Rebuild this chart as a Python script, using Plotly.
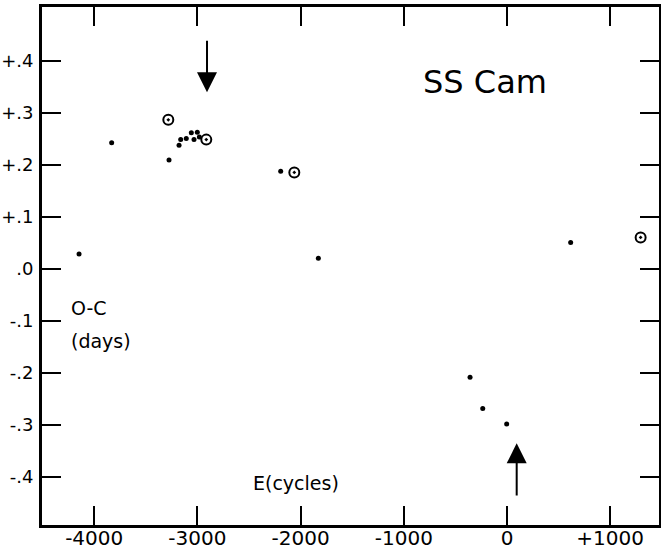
import plotly.graph_objects as go

# Filled dots: epoch E (cycles), O-C (days)
dot_E = [-4147, -3831, -3275, -3178, -3162, -3108, -3059, -3033, -3001, -2981,
         -2193, -1828, -358, -235, -3, 617]
dot_OC = [0.029, 0.243, 0.210, 0.238, 0.249, 0.251, 0.262, 0.249, 0.263, 0.254,
          0.188, 0.021, -0.208, -0.268, -0.298, 0.051]

# Circled dots
circ_E = [-3282, -2914, -2061, 1295]
circ_OC = [0.287, 0.249, 0.186, 0.061]

x_ticks = [-4000, -3000, -2000, -1000, 0, 1000]
x_labels = ["-4000", "-3000", "-2000", "-1000", "0", "+1000"]
y_ticks = [0.4, 0.3, 0.2, 0.1, 0.0, -0.1, -0.2, -0.3, -0.4]
y_labels = ["+.4", "+.3", "+.2", "+.1", ".0", "-.1", "-.2", "-.3", "-.4"]

# Arrows: (E, tail O-C, head O-C)
arrow_down = (-2907, 0.442, 0.340)
arrow_up = (94, -0.438, -0.335)

FONT = "DejaVu Sans"

fig = go.Figure()
fig.add_trace(go.Scatter(x=dot_E, y=dot_OC, mode="markers",
                         marker=dict(size=5, color="black", symbol="circle"),
                         showlegend=False, hoverinfo="skip"))
fig.add_trace(go.Scatter(x=circ_E, y=circ_OC, mode="markers",
                         marker=dict(size=10, color="black", symbol="circle-open-dot",
                                     line=dict(width=2, color="black")),
                         showlegend=False, hoverinfo="skip"))

for (ex, y0, y1) in [arrow_down, arrow_up]:
    fig.add_annotation(x=ex, y=y1, ax=ex, ay=y0, xref="x", yref="y",
                       axref="x", ayref="y", showarrow=True, arrowhead=2,
                       arrowsize=2, arrowwidth=2, arrowcolor="black", text="")

fig.add_annotation(x=-213, y=0.36, xref="x", yref="y", text="SS Cam", showarrow=False,
                   font=dict(family=FONT, size=32, color="black"))
fig.add_annotation(x=-4240, y=-0.075, xref="x", yref="y", text="O-C", showarrow=False,
                   xanchor="left", font=dict(family=FONT, size=19, color="black"))
fig.add_annotation(x=-4240, y=-0.138, xref="x", yref="y", text="(days)", showarrow=False,
                   xanchor="left", font=dict(family=FONT, size=19, color="black"))
fig.add_annotation(x=-2480, y=-0.4115, xref="x", yref="y", text="E(cycles)", showarrow=False,
                   xanchor="left", font=dict(family=FONT, size=19, color="black"))

fig.update_xaxes(range=[-4506, 1473], tickvals=x_ticks, ticktext=x_labels,
                 ticks="inside", ticklen=19, tickwidth=2, tickcolor="black",
                 showline=True, linewidth=3, linecolor="black", mirror="ticks",
                 showgrid=False, zeroline=False, automargin=False,
                 ticklabelstandoff=-7,
                 tickfont=dict(family=FONT, size=20, color="black"))
fig.update_yaxes(range=[-0.492, 0.504], tickvals=y_ticks, ticktext=y_labels,
                 ticks="inside", ticklen=19, tickwidth=2, tickcolor="black",
                 showline=True, linewidth=3, linecolor="black", mirror="ticks",
                 showgrid=False, zeroline=False, automargin=False,
                 ticklabelstandoff=2,
                 tickfont=dict(family=FONT, size=18, color="black"))

fig.update_layout(width=661, height=556, margin=dict(l=42, r=2, t=7, b=31),
                  plot_bgcolor="white", paper_bgcolor="white")

fig.write_html("out.html", config={"displayModeBar": False},
               post_script="document.body.style.margin='0';")
